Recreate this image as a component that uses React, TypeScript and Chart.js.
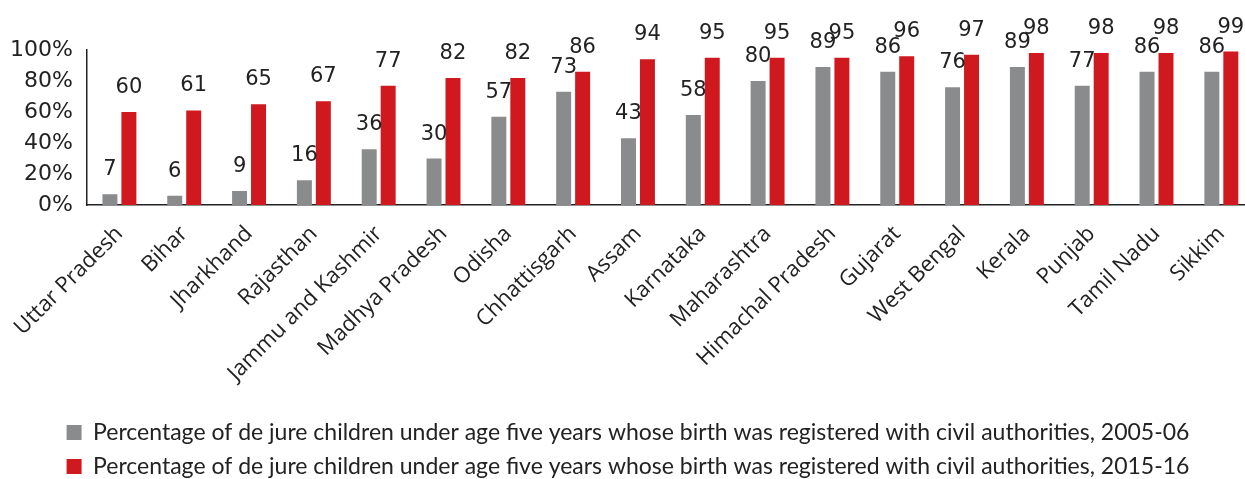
import React, { useEffect, useRef } from "react";
import { Chart, registerables } from "chart.js";

Chart.register(...registerables);

const states = [
  "Uttar Pradesh", "Bihar", "Jharkhand", "Rajasthan", "Jammu and Kashmir",
  "Madhya Pradesh", "Odisha", "Chhattisgarh", "Assam", "Karnataka",
  "Maharashtra", "Himachal Pradesh", "Gujarat", "West Bengal", "Kerala",
  "Punjab", "Tamil Nadu", "Sikkim",
];
const values2005 = [7, 6, 9, 16, 36, 30, 57, 73, 43, 58, 80, 89, 86, 76, 89, 77, 86, 86];
const values2015 = [60, 61, 65, 67, 77, 82, 82, 86, 94, 95, 95, 95, 96, 97, 98, 98, 98, 99];
const label2005 = "Percentage of de jure children under age five years whose birth was registered with civil authorities, 2005-06";
const label2015 = "Percentage of de jure children under age five years whose birth was registered with civil authorities, 2015-16";
const yTicks = [0, 20, 40, 60, 80, 100];

const dataLabels = {
  id: "dataLabels",
  afterDatasetsDraw(chart: any) {
    const ctx = chart.ctx;
    ctx.save();
    ctx.font = "21px 'DejaVu Sans', sans-serif";
    ctx.fillStyle = "#222";
    ctx.textAlign = "center";
    ctx.textBaseline = "alphabetic";
    chart.data.datasets.forEach((ds: any, i: number) => {
      const meta = chart.getDatasetMeta(i);
      meta.data.forEach((bar: any, j: number) => {
        ctx.fillText(String(ds.data[j]), bar.x, bar.y - 19);
      });
    });
    ctx.restore();
  },
};

export default function App() {
  const ref = useRef<HTMLCanvasElement>(null);
  useEffect(() => {
    document.body.style.margin = "0";
    const chart = new Chart(ref.current!, {
      type: "bar",
      data: {
        labels: states,
        datasets: [
          { label: label2005, data: values2005, backgroundColor: "#8a8b8d", categoryPercentage: 0.585, barPercentage: 0.79 },
          { label: label2015, data: values2015, backgroundColor: "#d0191f", categoryPercentage: 0.585, barPercentage: 0.79 },
        ],
      },
      options: {
        responsive: false,
        animation: false,
        layout: { padding: { top: 50, left: 0, right: 0, bottom: -9 } },
        plugins: {
          tooltip: { enabled: false },
          legend: {
            position: "bottom",
            labels: {
              boxWidth: 15,
              boxHeight: 15,
              padding: 11,
              color: "#222",
              font: { family: "Lato, sans-serif", size: 23 },
            },
          },
        },
        scales: {
          x: {
            afterFit: (s: any) => { s.height = 205; },
            grid: { display: false, drawTicks: false },
            border: { display: true, color: "#222", width: 1.5 },
            ticks: {
              minRotation: 45,
              maxRotation: 45,
              padding: 16,
              color: "#222",
              font: { family: "'Open Sans', sans-serif", size: 22 },
            },
          },
          y: {
            min: 0,
            max: 100,
            afterFit: (s: any) => { s.width = 87; },
            afterBuildTicks: (s: any) => { s.ticks = yTicks.map((v) => ({ value: v })); },
            grid: { display: false, drawTicks: false },
            border: { display: true, color: "#222", width: 1.5 },
            ticks: {
              padding: 14,
              color: "#222",
              font: { family: "'DejaVu Sans', sans-serif", size: 22 },
              callback: (v: any) => v + "%",
            },
          },
        },
      },
      plugins: [dataLabels],
    });
    return () => chart.destroy();
  }, []);
  return (
    <div style={{ width: 1245, height: 479, overflow: "hidden" }}>
      <canvas ref={ref} width={1256} height={479} style={{ display: "block" }} />
    </div>
  );
}
